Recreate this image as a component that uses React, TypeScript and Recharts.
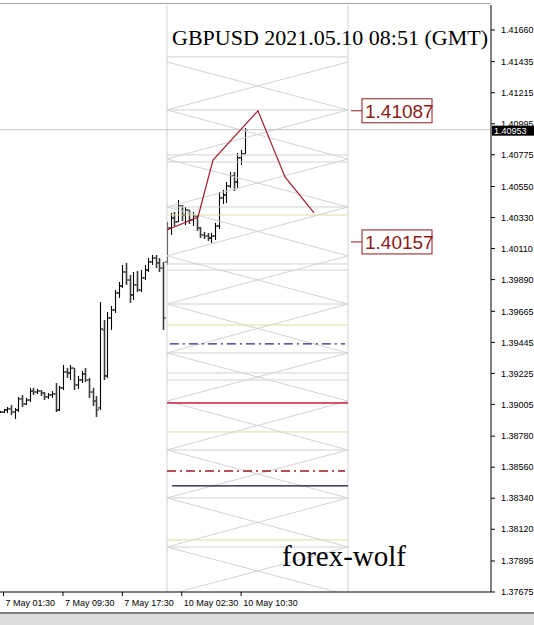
import React from 'react';
import { ComposedChart, Bar, Line, XAxis, YAxis, ReferenceLine, ReferenceDot } from 'recharts';

// GBPUSD M30 bars, 7 May 01:00 .. 10 May ~11:00 (slot index = bar number)
const opens = [
  1.38951, 1.38951, 1.38966, 1.38973, 1.38951, 1.38966, 1.39044, 1.39008, 1.39036, 1.39100,
  1.39093, 1.39100, 1.39086, 1.39058, 1.39072, 1.39079, 1.38966, 1.39122, 1.39235, 1.39228,
  1.39263, 1.39143, 1.39178, 1.39221, 1.39178, 1.39093, 1.39029, 1.38980, 1.39533, 1.39207,
  1.39618, 1.39675, 1.39795, 1.39845, 1.39944, 1.39887, 1.39781, 1.39852, 1.39816, 1.39902,
  1.39958, 1.40015, 1.40043, 1.40008, 1.39972, 1.40015, 1.40256, 1.40327, 1.40299, 1.40412,
  1.40348, 1.40384, 1.40313, 1.40341, 1.40256, 1.40207, 1.40199, 1.40185, 1.40199, 1.40270,
  1.40469, 1.40490, 1.40554, 1.40625, 1.40582, 1.40753, 1.40781,
];
const highs = [
  1.38958, 1.38973, 1.38987, 1.39001, 1.38980, 1.39058, 1.39072, 1.39051, 1.39122, 1.39122,
  1.39115, 1.39107, 1.39093, 1.39086, 1.39100, 1.39157, 1.39136, 1.39285, 1.39263, 1.39285,
  1.39263, 1.39207, 1.39242, 1.39263, 1.39193, 1.39122, 1.39065, 1.39731, 1.39604, 1.39660,
  1.39703, 1.39816, 1.39873, 1.39994, 1.40008, 1.39923, 1.39944, 1.39951, 1.39958, 1.39994,
  1.40043, 1.40065, 1.40065, 1.40043, 1.40015, 1.40299, 1.40363, 1.40370, 1.40455, 1.40419,
  1.40405, 1.40384, 1.40370, 1.40348, 1.40263, 1.40228, 1.40221, 1.40221, 1.40292, 1.40511,
  1.40526, 1.40582, 1.40653, 1.40653, 1.40788, 1.40809, 1.40965,
];
const lows = [
  1.38944, 1.38944, 1.38944, 1.38930, 1.38902, 1.38951, 1.38987, 1.39001, 1.39022, 1.39072,
  1.39079, 1.39065, 1.39036, 1.39044, 1.39051, 1.38951, 1.38958, 1.39107, 1.39193, 1.39178,
  1.39107, 1.39115, 1.39157, 1.39164, 1.39051, 1.38994, 1.38916, 1.38966, 1.39178, 1.39193,
  1.39533, 1.39653, 1.39760, 1.39831, 1.39852, 1.39724, 1.39746, 1.39802, 1.39802, 1.39887,
  1.39944, 1.39994, 1.39972, 1.39944, 1.39533, 1.39994, 1.40207, 1.40270, 1.40299, 1.40306,
  1.40277, 1.40285, 1.40270, 1.40235, 1.40185, 1.40178, 1.40164, 1.40150, 1.40171, 1.40249,
  1.40426, 1.40433, 1.40540, 1.40518, 1.40540, 1.40703, 1.40781,
];
const closes = [
  1.38951, 1.38966, 1.38973, 1.38951, 1.38966, 1.39044, 1.39008, 1.39036, 1.39100, 1.39093,
  1.39100, 1.39086, 1.39058, 1.39072, 1.39079, 1.38966, 1.39122, 1.39235, 1.39228, 1.39263,
  1.39143, 1.39178, 1.39221, 1.39178, 1.39093, 1.39029, 1.38966, 1.39540, 1.39207, 1.39618,
  1.39675, 1.39795, 1.39845, 1.39944, 1.39887, 1.39781, 1.39852, 1.39816, 1.39902, 1.39958,
  1.40015, 1.40043, 1.40008, 1.39972, 1.39618, 1.40256, 1.40327, 1.40299, 1.40412, 1.40348,
  1.40384, 1.40313, 1.40341, 1.40256, 1.40207, 1.40199, 1.40185, 1.40199, 1.40270, 1.40469,
  1.40490, 1.40554, 1.40625, 1.40582, 1.40753, 1.40781, 1.40953,
];

const priceTicks = [
  1.37675, 1.37895, 1.3812, 1.3834, 1.3856, 1.3878, 1.39005, 1.39225, 1.39445, 1.39665,
  1.3989, 1.4011, 1.4033, 1.4055, 1.40775, 1.40995, 1.41215, 1.41435, 1.4166,
];
const timeTickSlots = [1, 17, 33, 49, 65];
const timeTickLabels = ['7 May 01:30', '7 May 09:30', '7 May 17:30', '10 May 02:30', '10 May 10:30'];

const lastPrice = 1.40953;

// forecast path and its two targets
const forecastSlots = [45.03, 53.38, 57.42, 69.54, 76.82, 84.63];
const forecastPrices = [1.40242, 1.40334, 1.40738, 1.41087, 1.40618, 1.40363];
const targetPrices = [1.41087, 1.40157];

// the grid box drawn over Monday
const boxStart = 45.03;
const boxEnd = 93.79;
const crossLevels = [
  1.41433, 1.41093, 1.40745, 1.40405, 1.40058, 1.39717, 1.3937, 1.39029, 1.38682, 1.38342,
  1.37994, 1.37654,
];
const grayLevels = [
  1.41469, 1.41093, 1.40774, 1.40724, 1.40405, 1.40001, 1.39958, 1.39717, 1.3937, 1.39228,
  1.39178, 1.38682, 1.38342, 1.37994,
];
const yellowLevels = [1.40348, 1.39568, 1.3881, 1.38044];
const purpleLevel = 1.39434;
const redLevel = 1.39015;
const redDashLevel = 1.38533;
const navyLevel = 1.38427;

const bars = opens.map((o, i) => ({
  t: i,
  o,
  h: highs[i],
  l: lows[i],
  c: closes[i],
  range: [lows[i], highs[i]],
}));
const forecast = forecastSlots.map((t, i) => ({ t, f: forecastPrices[i] }));

const FONT = '"Liberation Sans", Arial, sans-serif';
const SERIF = '"Liberation Serif", "Times New Roman", serif';
const GRID = '#d2d2d8';

const OhlcBar = (props: any) => {
  const { x, y, width, height, payload } = props;
  const { o, h, l, c } = payload;
  const cx = Math.round(x + width / 2) + 0.5;
  const span = h - l || 1;
  const yo = y + ((h - o) / span) * height;
  const yc = y + ((h - c) / span) * height;
  const down = c < o;
  const col = down ? '#3a3a3a' : '#000';
  return (
    <g stroke={col}>
      <line x1={cx} x2={cx} y1={y} y2={y + Math.max(height, 1)} strokeWidth={down ? 1.6 : 1.1} />
      <line x1={cx - 2.5} x2={cx} y1={yo} y2={yo} strokeWidth={1} />
      <line x1={cx} x2={cx + 2.5} y1={yc} y2={yc} strokeWidth={1} />
    </g>
  );
};

const TimeTick = (props: any) => {
  const { x, y, payload } = props;
  const idx = timeTickSlots.indexOf(payload.value);
  return (
    <text x={x + 2} y={y + 8} textAnchor="start" fontSize={9} fontFamily={FONT} fill="#000">
      {timeTickLabels[idx]}
    </text>
  );
};

const TargetLabel = (props: any) => {
  const { cx, cy, value } = props;
  return (
    <g>
      <line x1={cx - 11} x2={cx} y1={cy} y2={cy} stroke="#8b1a1a" strokeWidth={1} />
      <rect x={cx} y={cy - 12} width={70} height={24} fill="#fff" stroke="#8b1a1a" strokeWidth={1} />
      <text x={cx + 3} y={cy + 7} fontSize={19} fontFamily={FONT} fill="#8b1a1a">
        {value.toFixed(5)}
      </text>
    </g>
  );
};

const LastPriceLabel = (props: any) => {
  const { viewBox } = props;
  const right = viewBox.x + viewBox.width;
  return (
    <g>
      <rect x={right + 1} y={viewBox.y - 4} width={42} height={10} fill="#000" />
      <text x={right + 3} y={viewBox.y + 4.5} fontSize={9} fontFamily={FONT} fill="#fff">
        {lastPrice.toFixed(5)}
      </text>
    </g>
  );
};

export default function App() {
  return (
    <div style={{ position: 'absolute', left: 0, top: 0, width: 534, height: 625, background: '#fff', overflow: 'hidden' }}>
      <ComposedChart width={534} height={612} data={bars} margin={{ top: 5, right: 0, bottom: 0, left: 0 }}>
        <XAxis
          type="number"
          dataKey="t"
          domain={[0.04, 132.31]}
          allowDataOverflow
          ticks={timeTickSlots}
          interval={0}
          tick={<TimeTick />}
          height={20}
          tickSize={4}
          axisLine={{ stroke: '#000' }}
          tickLine={{ stroke: '#000' }}
        />
        <YAxis
          orientation="right"
          width={43}
          domain={[1.37675, 1.41837]}
          allowDataOverflow
          ticks={priceTicks}
          interval={0}
          tickFormatter={(v: number) => v.toFixed(5)}
          tick={{ fontSize: 9, fontFamily: FONT, fill: '#000' }}
          tickSize={4}
          tickMargin={6}
          axisLine={{ stroke: '#000' }}
          tickLine={{ stroke: '#000' }}
        />

        <ReferenceLine x={boxStart} stroke={GRID} />
        <ReferenceLine x={boxEnd} stroke={GRID} />
        {grayLevels.map((p, i) => (
          <ReferenceLine key={`g${i}`} segment={[{ x: boxStart, y: p }, { x: boxEnd, y: p }]} stroke={GRID} ifOverflow="hidden" />
        ))}
        {crossLevels.slice(1).map((p, i) => (
          <ReferenceLine key={`xa${i}`} segment={[{ x: boxStart, y: crossLevels[i] }, { x: boxEnd, y: p }]} stroke={GRID} ifOverflow="hidden" />
        ))}
        {crossLevels.slice(1).map((p, i) => (
          <ReferenceLine key={`xb${i}`} segment={[{ x: boxStart, y: p }, { x: boxEnd, y: crossLevels[i] }]} stroke={GRID} ifOverflow="hidden" />
        ))}
        {yellowLevels.map((p, i) => (
          <ReferenceLine key={`y${i}`} segment={[{ x: boxStart, y: p }, { x: boxEnd, y: p }]} stroke="#e2dca0" />
        ))}
        <ReferenceLine segment={[{ x: 45.8, y: purpleLevel }, { x: 92.98, y: purpleLevel }]} stroke="#34267a" strokeWidth={1.3} strokeDasharray="9 4 2 4" />
        <ReferenceLine segment={[{ x: boxStart, y: redLevel }, { x: boxEnd, y: redLevel }]} stroke="#c41e3a" strokeWidth={1.3} />
        <ReferenceLine segment={[{ x: boxStart, y: redDashLevel }, { x: 92.98, y: redDashLevel }]} stroke="#9c1a24" strokeWidth={1.3} strokeDasharray="9 4 2 4" />
        <ReferenceLine segment={[{ x: 46.4, y: navyLevel }, { x: boxEnd, y: navyLevel }]} stroke="#10102e" strokeWidth={1.3} />

        <ReferenceLine y={lastPrice} stroke="#c4c4c4" label={<LastPriceLabel />} />

        <Bar dataKey="range" barSize={3} shape={<OhlcBar />} isAnimationActive={false} />
        <Line
          data={forecast}
          dataKey="f"
          type="linear"
          stroke="#a01e2c"
          strokeWidth={1.2}
          dot={false}
          activeDot={false}
          isAnimationActive={false}
        />
        {targetPrices.map((p, i) => (
          <ReferenceDot key={`tg${i}`} x={97.56} y={p} ifOverflow="visible" shape={(s: any) => <TargetLabel {...s} value={p} />} />
        ))}
      </ComposedChart>
      <div style={{ position: 'absolute', left: 0, top: 3, width: 491, height: 1, background: '#a8a8a8' }} />
      <div style={{ position: 'absolute', left: 172, top: 27, fontFamily: SERIF, fontSize: 22, lineHeight: '22px', whiteSpace: 'nowrap', color: '#000' }}>
        GBPUSD 2021.05.10 08:51 (GMT)
      </div>
      <div style={{ position: 'absolute', left: 282, top: 542, fontFamily: SERIF, fontSize: 29, lineHeight: '29px', whiteSpace: 'nowrap', color: '#000' }}>
        forex-wolf
      </div>
      <div style={{ position: 'absolute', left: 0, top: 612, width: 534, height: 13, background: '#dcdcdc', borderTop: '2px solid #808080' }} />
    </div>
  );
}
